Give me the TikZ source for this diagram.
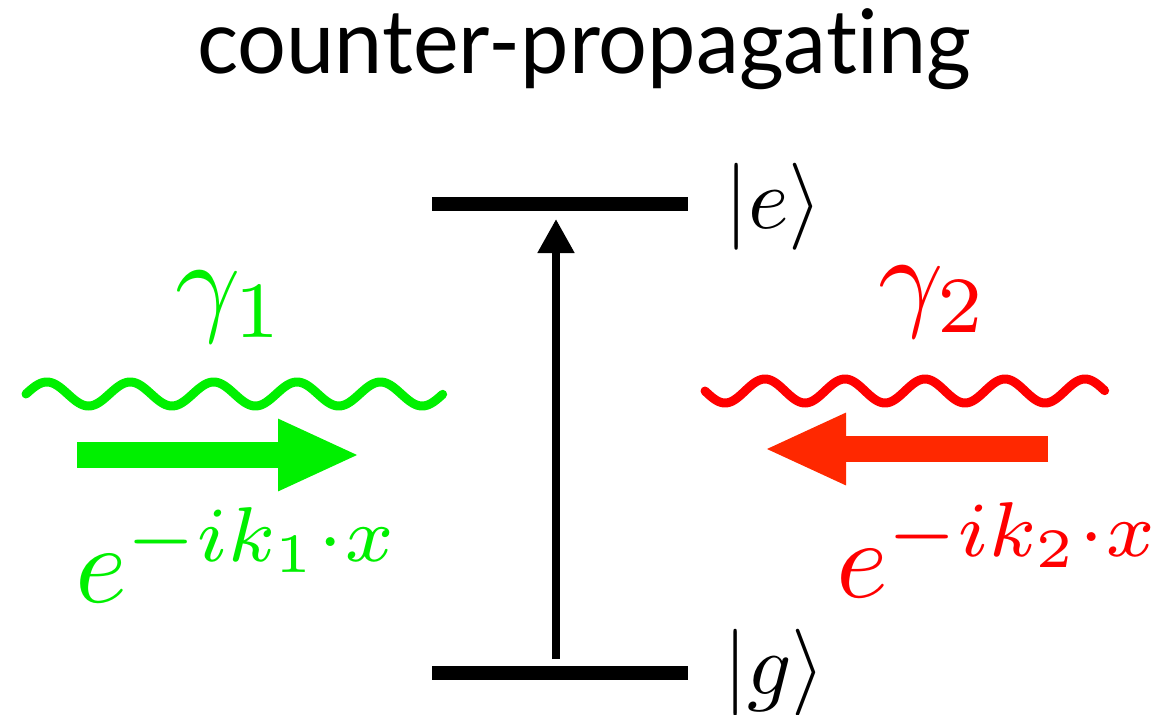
\documentclass[tikz,border=0pt]{standalone}
\usepackage{fontspec}
\newfontfamily\titlefont[Ligatures=NoCommon]{Lato}
\usetikzlibrary{arrows.meta}
\definecolor{lgreen}{RGB}{0,240,0}
\definecolor{lred}{RGB}{255,0,0}
\definecolor{ared}{RGB}{255,40,0}
\tikzset{
  level/.style={line width=14pt, black},
  wavy/.style={line width=9pt, line cap=round, line join=round},
  bigarrow/.style={line width=26pt, -{Triangle[length=82pt,width=66pt]}},
  lbl/.style={inner sep=0pt, outer sep=0pt},
}
\begin{document}
\begin{tikzpicture}[x=1pt,y=-1pt]
\useasboundingbox (0,0) rectangle (1176,715);
% title
\node[lbl, anchor=base, xscale=0.97] (title) at (584,73) {\titlefont\fontsize{89}{100}\selectfont counter-propagating};
% levels
\coordinate (eL) at (432,204);
\coordinate (eR) at (688,204);
\coordinate (gL) at (432,673);
\coordinate (gR) at (688,673);
\draw[level] (eL) -- (eR);
\draw[level] (gL) -- (gR);
\coordinate (vS) at (556,659);
\coordinate (vE) at (556,219);
\draw[line width=8pt, -{Triangle[length=34pt,width=35pt]}] (vS) -- (vE);
\node[lbl, anchor=base west, scale=8.7] (ket e) at (724,228) {$|e\rangle$};
\node[lbl, anchor=base west, scale=8.7] (ket g) at (723,694) {$|g\rangle$};
% green
\draw[wavy, lgreen] plot[variable=\t, domain=0:5, samples=300] ({26+83.4*\t}, {394 - 12*sin(360*\t)});
\coordinate (gaS) at (77,455);
\coordinate (gaE) at (360,455);
\draw[bigarrow, lgreen] (gaS) -- (gaE);
\node[lbl, anchor=base, scale=11.4, lgreen] (gamma1) at (231,320) {$\gamma_1$};
\node[lbl, anchor=base west, scale=11.1, lgreen] (ph1) at (75,602) {$e^{-ik_1\cdot x}$};
% red
\draw[wavy, lred] plot[variable=\t, domain=0:5, samples=300] ({705+80*\t}, {391 + 12*sin(360*\t)});
\coordinate (raS) at (1048,449);
\coordinate (raE) at (764,449);
\draw[bigarrow, ared] (raS) -- (raE);
\node[lbl, anchor=base, scale=11.4, lred] (gamma2) at (934,315) {$\gamma_2$};
\node[lbl, anchor=base west, scale=11.1, lred] (ph2) at (836,597) {$e^{-ik_2\cdot x}$};
\end{tikzpicture}
\end{document}
